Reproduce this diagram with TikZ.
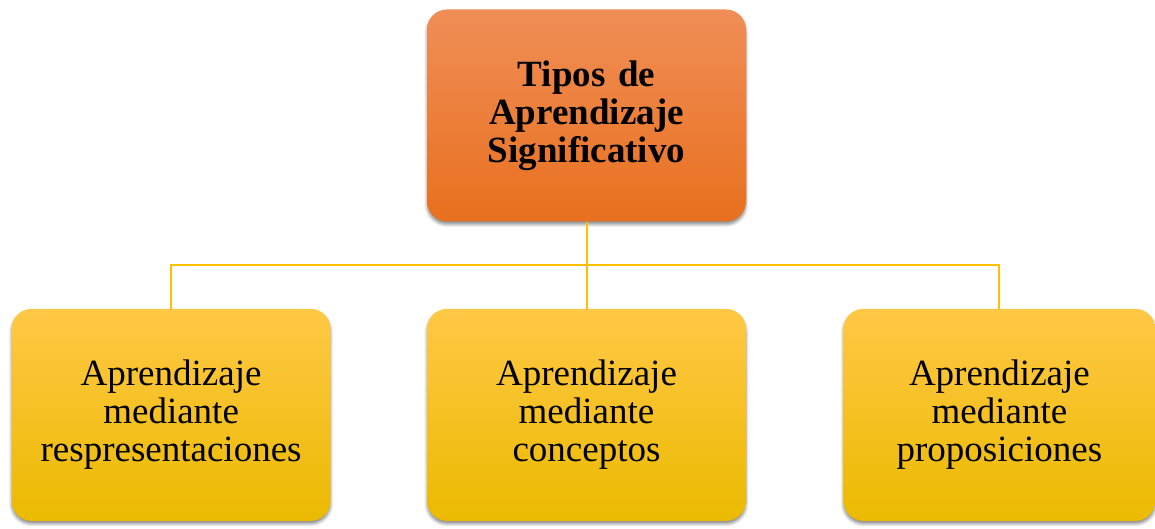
\documentclass[tikz,border=0pt]{standalone}
\usepackage{fontspec}
\setmainfont{Liberation Serif}
\usepackage{tikz}
\usetikzlibrary{positioning,calc,shadows.blur}
\usepackage{xcolor}
\definecolor{naranjaA}{RGB}{240,142,87}
\definecolor{naranjaM}{RGB}{242,124,47}
\definecolor{naranjaB}{RGB}{232,112,30}
\definecolor{amarilloA}{RGB}{255,200,70}
\definecolor{amarilloM}{RGB}{255,195,0}
\definecolor{amarilloB}{RGB}{235,186,0}
\definecolor{linea}{RGB}{255,192,0}

\begin{document}
\begin{tikzpicture}[x=1pt, y=1pt,
  caja/.style={rounded corners=20pt, minimum width=319pt, minimum height=212pt,
    inner sep=0pt, text width=300pt, align=center,
    font=\fontsize{37}{38}\selectfont,
    blur shadow={shadow xshift=0pt, shadow yshift=-3pt, shadow blur radius=3pt, shadow opacity=45}},
  raiz/.style={caja, top color=naranjaA, middle color=naranjaM, bottom color=naranjaB, font=\fontsize{37}{38}\selectfont\bfseries},
  hijo/.style={caja, top color=amarilloA, middle color=amarilloM, bottom color=amarilloB},
  enlace/.style={draw=linea, line width=2pt}]
  \useasboundingbox (0,0) rectangle (1155,529);

  \node[raiz] (tipos) at (586.5,413.5) {Tipos de\\ Aprendizaje\\ Significativo};
  \node[hijo, below=87pt of tipos] (conceptos) {Aprendizaje\\ mediante\\ conceptos};
  \node[hijo, left=96pt of conceptos] (repres) {Aprendizaje\\ mediante\\ respresentaciones};
  \node[hijo, minimum width=312pt, right=97pt of conceptos] (propos) {Aprendizaje\\ mediante\\ proposiciones};

  % conectores
  \coordinate (bus) at ($(tipos.south)!.5!(conceptos.north)$);
  \draw[enlace] (tipos.south) -- (conceptos.north);
  \draw[enlace] (repres.north) -- (bus -| repres.north) -- (bus -| propos.north) -- (propos.north);
\end{tikzpicture}
\end{document}
